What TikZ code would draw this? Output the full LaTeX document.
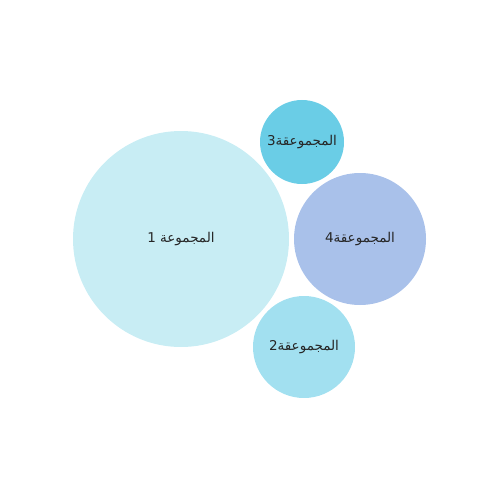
\documentclass[tikz,border=0pt]{standalone}
\usepackage{fontspec}
\newfontfamily\arabicfont[Script=Arabic]{DejaVu Sans}
\TeXXeTstate=1
\definecolor{cbig}{HTML}{C8EDF4}
\definecolor{cthree}{HTML}{6ACDE6}
\definecolor{cfour}{HTML}{A9C1EA}
\definecolor{ctwo}{HTML}{A2E0F0}
\newcommand{\grplabel}[1]{\raisebox{-2pt}{\beginR #1\endR}}
\begin{document}
\begin{tikzpicture}[x=1pt,y=-1pt,
  bubble/.style={circle,draw=none,inner sep=0pt,font=\arabicfont\fontsize{13.5}{15}\selectfont,text=black!85}]
\useasboundingbox (0,0) rectangle (500,500);
\node[bubble,fill=cbig,minimum size=216pt] (g1) at (181,239) {\grplabel{المجموعة 1}};
\node[bubble,fill=cthree,minimum size=84pt] (g3) at (302,142) {\grplabel{المجموعقة3}};
\node[bubble,fill=cfour,minimum size=132pt] (g4) at (360,239) {\grplabel{المجموعقة4}};
\node[bubble,fill=ctwo,minimum size=102pt] (g2) at (304,347) {\grplabel{المجموعقة2}};
\end{tikzpicture}
\end{document}
